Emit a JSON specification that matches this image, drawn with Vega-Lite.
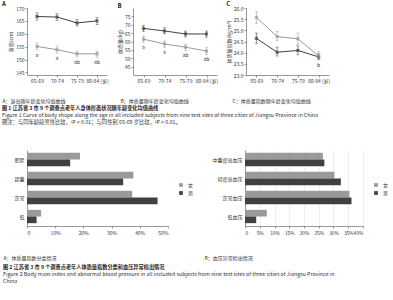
{
  "$schema": "https://vega.github.io/schema/vega-lite/v6.json",
  "padding": {"left": 2, "top": 1, "right": 2, "bottom": 2},
  "background": "white",
  "config": {
    "font": "Noto Sans CJK SC",
    "view": {"stroke": null},
    "axis": {"labelFontSize": 5, "titleFontSize": 5, "tickSize": 2, "labelPadding": 1, "domainColor": "#555", "tickColor": "#555", "labelColor": "#333", "titleColor": "#333", "titleFontWeight": "normal", "grid": false, "domainWidth": 0.6, "tickWidth": 0.6, "titlePadding": 2, "labelOverlap": false},
    "legend": {"labelFontSize": 5, "symbolSize": 14, "rowPadding": 2, "labelColor": "#333"},
    "title": {"color": "#222"}
  },
  "datasets": {
    "height": [
      {"age": "65-69", "sex": "男", "mean": 166.7, "lo": 165.3, "hi": 168.1, "sig": ""},
      {"age": "70-74", "sex": "男", "mean": 166.5, "lo": 165.2, "hi": 167.8, "sig": ""},
      {"age": "75-79", "sex": "男", "mean": 164.2, "lo": 163.0, "hi": 165.6, "sig": ""},
      {"age": "80-84", "sex": "男", "mean": 165.0, "lo": 163.5, "hi": 166.3, "sig": ""},
      {"age": "65-69", "sex": "女", "mean": 155.1, "lo": 153.7, "hi": 156.5, "sig": "a"},
      {"age": "70-74", "sex": "女", "mean": 153.8, "lo": 152.5, "hi": 155.2, "sig": "a"},
      {"age": "75-79", "sex": "女", "mean": 152.2, "lo": 151.0, "hi": 153.3, "sig": "ab"},
      {"age": "80-84", "sex": "女", "mean": 152.2, "lo": 150.9, "hi": 153.3, "sig": "ab"}
    ],
    "weight": [
      {"age": "65-69", "sex": "男", "mean": 67.8, "lo": 66.0, "hi": 69.6, "sig": ""},
      {"age": "70-74", "sex": "男", "mean": 66.3, "lo": 64.6, "hi": 68.2, "sig": ""},
      {"age": "75-79", "sex": "男", "mean": 64.5, "lo": 62.7, "hi": 66.2, "sig": ""},
      {"age": "80-84", "sex": "男", "mean": 64.5, "lo": 62.6, "hi": 66.3, "sig": ""},
      {"age": "65-69", "sex": "女", "mean": 61.4, "lo": 59.6, "hi": 63.2, "sig": "a"},
      {"age": "70-74", "sex": "女", "mean": 58.5, "lo": 56.5, "hi": 60.3, "sig": "a"},
      {"age": "75-79", "sex": "女", "mean": 56.6, "lo": 54.7, "hi": 58.4, "sig": "ab"},
      {"age": "80-84", "sex": "女", "mean": 54.3, "lo": 52.3, "hi": 56.3, "sig": "ab"}
    ],
    "bmi": [
      {"age": "65-69", "sex": "男", "mean": 24.64, "lo": 24.4, "hi": 24.88, "sig": ""},
      {"age": "70-74", "sex": "男", "mean": 24.02, "lo": 23.85, "hi": 24.25, "sig": ""},
      {"age": "75-79", "sex": "男", "mean": 24.1, "lo": 23.9, "hi": 24.3, "sig": ""},
      {"age": "80-84", "sex": "男", "mean": 23.81, "lo": 23.7, "hi": 23.95, "sig": "b"},
      {"age": "65-69", "sex": "女", "mean": 25.58, "lo": 25.3, "hi": 25.85, "sig": ""},
      {"age": "70-74", "sex": "女", "mean": 24.72, "lo": 24.55, "hi": 24.95, "sig": ""},
      {"age": "75-79", "sex": "女", "mean": 24.62, "lo": 24.35, "hi": 24.88, "sig": ""},
      {"age": "80-84", "sex": "女", "mean": 23.85, "lo": 23.72, "hi": 24.05, "sig": ""}
    ],
    "bmicat": [
      {"cat": "肥胖", "sex": "女", "pct": 0.188},
      {"cat": "肥胖", "sex": "男", "pct": 0.153},
      {"cat": "超重", "sex": "女", "pct": 0.377},
      {"cat": "超重", "sex": "男", "pct": 0.341},
      {"cat": "正常", "sex": "女", "pct": 0.373},
      {"cat": "正常", "sex": "男", "pct": 0.463},
      {"cat": "低", "sex": "女", "pct": 0.05},
      {"cat": "低", "sex": "男", "pct": 0.034}
    ],
    "bp": [
      {"cat": "中重度高血压", "sex": "女", "pct": 0.264},
      {"cat": "中重度高血压", "sex": "男", "pct": 0.269},
      {"cat": "轻度高血压", "sex": "女", "pct": 0.303},
      {"cat": "轻度高血压", "sex": "男", "pct": 0.325},
      {"cat": "正常血压", "sex": "女", "pct": 0.354},
      {"cat": "正常血压", "sex": "男", "pct": 0.361},
      {"cat": "低血压", "sex": "女", "pct": 0.074},
      {"cat": "低血压", "sex": "男", "pct": 0.038}
    ]
  },
  "spacing": 24,
  "vconcat": [
    {
      "hconcat": [
        {
          "width": 80, "height": 67,
          "title": {"text": "A", "anchor": "start", "frame": "bounds", "fontSize": 6, "fontWeight": "bold", "offset": -1},
          "data": {"name": "height"},
          "encoding": {
            "x": {"field": "age", "type": "ordinal", "scale": {"type": "point", "padding": 0.5},
              "axis": {"title": "A：身高随年龄变化均值曲线", "titleAnchor": "start", "titleAlign": "left", "titleX": -25, "titleY": 25, "titleBaseline": "middle", "labelAngle": 0, "labelExpr": "datum.value == '80-84' ? '\u00a0\u00a0\u00a0\u00a0\u00a0\u00a0\u00a080-84 (岁)' : datum.value"}},
            "color": {"field": "sex", "type": "nominal", "scale": {"domain": ["男", "女"], "range": ["#404040", "#9a9a9a"]}, "legend": null}
          },
          "layer": [
            {"mark": {"type": "errorbar", "ticks": {"size": 3}, "thickness": 0.6},
             "encoding": {"y": {"field": "lo", "type": "quantitative", "scale": {"domain": [145, 170]}, "title": "身高(cm)", "axis": {"values": [145, 150, 155, 160, 165, 170]}}, "y2": {"field": "hi"}}},
            {"mark": {"type": "line", "strokeWidth": 1},
             "encoding": {"y": {"field": "mean", "type": "quantitative", "scale": {"domain": [145, 170]}, "title": "身高(cm)", "axis": {"values": [145, 150, 155, 160, 165, 170]}},
               "color": {"field": "sex", "type": "nominal", "scale": {"domain": ["男", "女"], "range": ["#404040", "#9a9a9a"]}, "legend": {"orient": "none", "legendX": 84, "legendY": 30, "title": null}}}},
            {"mark": {"type": "point", "shape": "square", "filled": true, "size": 10},
             "encoding": {"y": {"field": "mean", "type": "quantitative", "title": "身高(cm)", "axis": {"values": [145, 150, 155, 160, 165, 170]}}}},
            {"mark": {"type": "text", "baseline": "middle", "dy": 5, "fontSize": 5},
             "encoding": {"y": {"field": "lo", "type": "quantitative", "title": "身高(cm)", "axis": {"values": [145, 150, 155, 160, 165, 170]}}, "text": {"field": "sig"}, "color": {"value": "#333"}}}
          ]
        },
        {
          "width": 84, "height": 67,
          "title": {"text": "B", "anchor": "start", "frame": "bounds", "fontSize": 6, "fontWeight": "bold", "offset": -1},
          "data": {"name": "weight"},
          "encoding": {
            "x": {"field": "age", "type": "ordinal", "scale": {"type": "point", "padding": 0.5},
              "axis": {"title": "B：体质量随年龄变化均值曲线", "titleAnchor": "start", "titleAlign": "left", "titleX": -13, "titleY": 25, "titleBaseline": "middle", "labelAngle": 0, "labelExpr": "datum.value == '80-84' ? '\u00a0\u00a0\u00a0\u00a0\u00a0\u00a0\u00a080-84 (岁)' : datum.value"}},
            "color": {"field": "sex", "type": "nominal", "scale": {"domain": ["男", "女"], "range": ["#404040", "#9a9a9a"]}, "legend": null}
          },
          "layer": [
            {"mark": {"type": "errorbar", "ticks": {"size": 3}, "thickness": 0.6},
             "encoding": {"y": {"field": "lo", "type": "quantitative", "scale": {"domain": [45, 75]}, "title": "体质量(kg)", "axis": {"values": [45, 50, 55, 60, 65, 70, 75]}}, "y2": {"field": "hi"}}},
            {"mark": {"type": "line", "strokeWidth": 1},
             "encoding": {"y": {"field": "mean", "type": "quantitative", "scale": {"domain": [45, 75]}, "title": "体质量(kg)", "axis": {"values": [45, 50, 55, 60, 65, 70, 75]}},
               "color": {"field": "sex", "type": "nominal", "scale": {"domain": ["男", "女"], "range": ["#404040", "#9a9a9a"]}, "legend": {"orient": "none", "legendX": 88, "legendY": 32, "title": null}}}},
            {"mark": {"type": "point", "shape": "square", "filled": true, "size": 10},
             "encoding": {"y": {"field": "mean", "type": "quantitative", "title": "体质量(kg)", "axis": {"values": [45, 50, 55, 60, 65, 70, 75]}}}},
            {"mark": {"type": "text", "baseline": "middle", "dy": 5, "fontSize": 5},
             "encoding": {"y": {"field": "lo", "type": "quantitative", "title": "体质量(kg)", "axis": {"values": [45, 50, 55, 60, 65, 70, 75]}}, "text": {"field": "sig"}, "color": {"value": "#333"}}}
          ]
        },
        {
          "width": 83, "height": 67,
          "title": {"text": "C", "anchor": "start", "frame": "bounds", "fontSize": 6, "fontWeight": "bold", "offset": -1},
          "data": {"name": "bmi"},
          "encoding": {
            "x": {"field": "age", "type": "ordinal", "scale": {"type": "point", "padding": 0.5},
              "axis": {"title": "C：体质量指数随年龄变化均值曲线", "titleAnchor": "start", "titleAlign": "left", "titleX": -14, "titleY": 25, "titleBaseline": "middle", "labelAngle": 0, "labelExpr": "datum.value == '80-84' ? '\u00a0\u00a0\u00a0\u00a0\u00a0\u00a0\u00a080-84 (岁)' : datum.value"}},
            "color": {"field": "sex", "type": "nominal", "scale": {"domain": ["男", "女"], "range": ["#404040", "#9a9a9a"]}, "legend": null}
          },
          "layer": [
            {"mark": {"type": "errorbar", "ticks": {"size": 3}, "thickness": 0.6},
             "encoding": {"y": {"field": "lo", "type": "quantitative", "scale": {"domain": [23, 26]}, "title": "体质量指数(kg/m²)", "axis": {"values": [23, 23.5, 24, 24.5, 25, 25.5, 26], "format": ".1f"}}, "y2": {"field": "hi"}}},
            {"mark": {"type": "line", "strokeWidth": 1},
             "encoding": {"y": {"field": "mean", "type": "quantitative", "scale": {"domain": [23, 26]}, "title": "体质量指数(kg/m²)", "axis": {"values": [23, 23.5, 24, 24.5, 25, 25.5, 26], "format": ".1f"}},
               "color": {"field": "sex", "type": "nominal", "scale": {"domain": ["男", "女"], "range": ["#404040", "#9a9a9a"]}, "legend": {"orient": "none", "legendX": 88, "legendY": 36, "title": null}}}},
            {"mark": {"type": "point", "shape": "square", "filled": true, "size": 10},
             "encoding": {"y": {"field": "mean", "type": "quantitative", "title": "体质量指数(kg/m²)", "axis": {"values": [23, 23.5, 24, 24.5, 25, 25.5, 26], "format": ".1f"}}}},
            {"mark": {"type": "text", "baseline": "middle", "dy": 6, "fontSize": 5},
             "encoding": {"y": {"field": "lo", "type": "quantitative", "title": "体质量指数(kg/m²)", "axis": {"values": [23, 23.5, 24, 24.5, 25, 25.5, 26], "format": ".1f"}}, "text": {"field": "sig"}, "color": {"value": "#333"}}}
          ]
        }
      ],
      "spacing": 8,
      "resolve": {"legend": {"color": "independent"}},
      "title": {
        "text": "图 1  江苏省 3 市 9 个调查点老年人身体形态状况随年龄变化均值曲线",
        "subtitle": ["Figure 1  Curve of body shape along the age in all included subjects from nine test sites of three cities of Jiangsu Province in China", "图注：与同年龄段男性比较，ᵃP < 0.01；与同性别 65-69 岁比较，ᵇP < 0.01。"],
        "orient": "bottom", "anchor": "start", "frame": "bounds",
        "fontSize": 5.2, "fontWeight": "bold", "subtitleFontSize": 5.3, "subtitleColor": "#333", "subtitlePadding": 2, "subtitleLineHeight": 7, "offset": 3
      }
    },
    {
      "hconcat": [
        {
          "width": 141, "height": 76,
          "data": {"name": "bmicat"},
          "mark": {"type": "bar"},
          "encoding": {
            "y": {"field": "cat", "type": "nominal", "sort": ["肥胖", "超重", "正常", "低"], "scale": {"paddingInner": 0.3, "paddingOuter": 0.15}, "axis": {"title": null, "ticks": false, "labelPadding": 3}},
            "yOffset": {"field": "sex", "sort": ["女", "男"]},
            "x": {"field": "pct", "type": "quantitative", "stack": null, "scale": {"domain": [0, 0.5]},
              "axis": {"values": [0, 0.1, 0.2, 0.3, 0.4, 0.5], "labelExpr": "datum.value == 0 ? '0' : format(datum.value, '.0%')", "title": "A：体质量指数分类情况", "titleAnchor": "start", "titleAlign": "left", "titleX": -24, "titleY": 31, "titleBaseline": "middle", "labelPadding": 2}},
            "color": {"field": "sex", "type": "nominal", "sort": ["女", "男"], "scale": {"domain": ["女", "男"], "range": ["#a6a6a6", "#333333"]}, "legend": {"orient": "none", "legendX": 151, "legendY": 32, "title": null, "symbolType": "square", "values": ["女", "男"]}}
          }
        },
        {
          "width": 118, "height": 76,
          "data": {"name": "bp"},
          "mark": {"type": "bar"},
          "encoding": {
            "y": {"field": "cat", "type": "nominal", "sort": ["中重度高血压", "轻度高血压", "正常血压", "低血压"], "scale": {"paddingInner": 0.3, "paddingOuter": 0.15}, "axis": {"title": null, "ticks": false, "labelPadding": 3}},
            "yOffset": {"field": "sex", "sort": ["女", "男"]},
            "x": {"field": "pct", "type": "quantitative", "stack": null, "scale": {"domain": [0, 0.4]},
              "axis": {"values": [0, 0.05, 0.1, 0.15, 0.2, 0.25, 0.3, 0.35, 0.4], "labelFontSize": 4.8, "labelExpr": "datum.value == 0 ? '0' : format(datum.value, '.0%')", "grid": true, "gridColor": "#dddddd", "gridWidth": 0.5, "title": "B：血压异常检出情况", "titleAnchor": "start", "titleAlign": "left", "titleX": -41, "titleY": 31, "titleBaseline": "middle", "labelPadding": 2}},
            "color": {"field": "sex", "type": "nominal", "sort": ["女", "男"], "scale": {"domain": ["女", "男"], "range": ["#a6a6a6", "#333333"]}, "legend": {"orient": "none", "legendX": 128, "legendY": 32, "title": null, "symbolType": "square", "values": ["女", "男"]}}
          }
        }
      ],
      "spacing": 10,
      "resolve": {"legend": {"color": "independent"}},
      "title": {
        "text": "图 2  江苏省 3 市 9 个调查点老年人体质量指数分类和血压异常检出情况",
        "subtitle": ["Figure 2  Body mass index and abnormal blood pressure in all included subjects from nine test sites of three cities of Jiangsu Province in", "China"],
        "orient": "bottom", "anchor": "start", "frame": "bounds",
        "fontSize": 5.2, "fontWeight": "bold", "subtitleFontSize": 5.3, "subtitleColor": "#333", "subtitlePadding": 2, "subtitleLineHeight": 7, "offset": 5
      }
    }
  ]
}
